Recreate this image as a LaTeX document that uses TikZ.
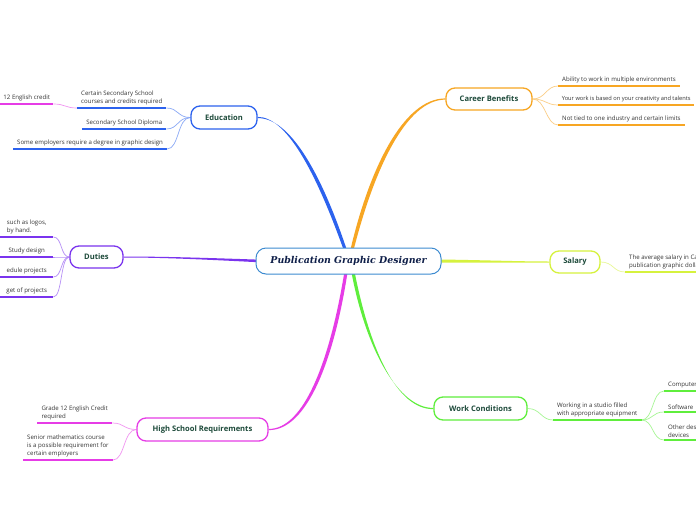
\documentclass[tikz,border=0pt]{standalone}
\usepackage{fontspec}
\setmainfont{Open Sans}
\newfontfamily\titlefont{DejaVu Serif}
\usetikzlibrary{calc,backgrounds}
\definecolor{cenc}{HTML}{3D8BD0}
\definecolor{navy}{HTML}{0E1E48}
\definecolor{labg}{HTML}{1D4A3A}
\definecolor{leaft}{HTML}{333333}
\definecolor{edc}{HTML}{2C62EE}
\definecolor{duc}{HTML}{7A34EE}
\definecolor{cbc}{HTML}{F7A623}
\definecolor{sac}{HTML}{D6F23E}
\definecolor{wcc}{HTML}{5FEE3C}
\definecolor{hsc}{HTML}{E63CE6}
\tikzset{
  central/.style={draw=cenc, line width=1pt, fill=white, rounded corners=10pt,
    minimum width=185pt, minimum height=26pt, inner sep=0pt, text=navy,
    font=\titlefont\bfseries\itshape\fontsize{9.4}{10}\selectfont},
  topic/.style={draw=#1, line width=1.3pt, fill=white, rounded corners=9pt,
    inner sep=0pt, text=labg, font=\bfseries\fontsize{7.6}{9}\selectfont},
  leaf/.style={anchor=south west, align=left, inner xsep=4pt, inner ysep=2.6pt,
    text=leaft, font=\fontsize{6.1}{8}\selectfont},
  uline/.style={draw=#1, line width=1.7pt},
  twig/.style={draw=#1!55, line width=0.7pt},
}
\begin{document}
\begin{tikzpicture}[x=1pt,y=-1pt]
\useasboundingbox (0,0) rectangle (696,520);

% central and main topics
\node[central] (c) at (348.5,261) {Publication Graphic Designer};
\node[topic=edc, minimum width=66pt, minimum height=23pt] (ed) at (224,117.5) {Education};
\node[topic=duc, minimum width=53pt, minimum height=22pt] (du) at (96.5,257) {Duties};
\node[topic=cbc, minimum width=86pt, minimum height=22pt] (cb) at (489,99) {Career Benefits};
\node[topic=sac, minimum width=50pt, minimum height=22pt] (sa) at (575,262) {Salary};
\node[topic=wcc, minimum width=93pt, minimum height=23pt] (wc) at (480.5,408.5) {Work Conditions};
\node[topic=hsc, minimum width=131pt, minimum height=23pt] (hs) at (202.5,429.5) {High School Requirements};

% leaves: Education
\node[leaf, minimum width=89pt] (ed1) at (77,108) {Certain Secondary School\\courses and credits required};
\node[leaf, minimum width=84pt] (ed2) at (82,129) {Secondary School Diploma};
\node[leaf, minimum width=153pt] (ed3) at (13,149) {Some employers require a degree in graphic design};
\node[leaf, minimum width=53pt, inner xsep=2pt] (ed1a) at (0,104) {12 English credit};
% leaves: Duties
\node[leaf, minimum width=53pt, inner xsep=1pt] (du1) at (0,237) {such as logos,\\by hand.};
\node[leaf, minimum width=53pt, inner xsep=5pt] (du2) at (0,257) {Study design};
\node[leaf, minimum width=53pt, inner xsep=0pt] (du3) at (0,277) {edule projects};
\node[leaf, minimum width=53pt, inner xsep=0pt] (du4) at (0,297) {get of projects};
% leaves: Career Benefits
\node[leaf, minimum width=119pt] (cb1) at (558,86) {Ability to work in multiple environments};
\node[leaf, minimum width=136pt, inner xsep=3.5pt, font=\fontsize{5.7}{8}\selectfont] (cb2) at (558,105) {Your work is based on your creativity and talents};
\node[leaf, minimum width=123pt] (cb3) at (558,125) {Not tied to one industry and certain limits};
% leaves: Salary
\node[leaf, minimum width=71pt] (sa1) at (625,272) {The average salary in Ca\\publication graphic dolla};
% leaves: Work Conditions
\node[leaf, minimum width=87pt] (wc1) at (553,420) {Working in a studio filled\\with appropriate equipment};
\node[leaf, minimum width=32pt] (wc2) at (664,391) {Computer};
\node[leaf, minimum width=32pt] (wc3) at (664,412) {Software};
\node[leaf, minimum width=32pt] (wc4) at (664,440) {Other desi\\devices};
% leaves: High School Requirements
\node[leaf, minimum width=75pt] (hs1) at (37,423) {Grade 12 English Credit\\required};
\node[leaf, minimum width=89pt] (hs2) at (23,460) {Senior mathematics course\\is a possible requirement for\\certain employers};

\begin{scope}[on background layer]
\fill[white] (0,0) rectangle (696,520);
% tapered main branches
\fill[edc] ($(c.north)+(-5,2)$) .. controls (315,170) and (286,116.7) .. ($(ed.east)+(0,-0.6)$)
  -- ($(ed.east)+(0,0.6)$) .. controls (289,117.7) and (320,170) .. ($(c.north)+(-1.8,2)$) -- cycle;
\fill[cbc] ($(c.north)+(2,2)$) .. controls (369,170) and (403,98.4) .. ($(cb.west)+(0,-0.6)$)
  -- ($(cb.west)+(0,0.6)$) .. controls (406,99.6) and (374,170) .. ($(c.north)+(5.2,2)$) -- cycle;
\fill[hsc] ($(c.south)+(-4.2,-2)$) .. controls (330,360) and (304,429.4) .. ($(hs.east)+(0,-0.6)$)
  -- ($(hs.east)+(0,0.6)$) .. controls (307,430.6) and (334,360) .. ($(c.south)+(-1,-2)$) -- cycle;
\fill[wcc] ($(c.south)+(3,-2)$) .. controls (366,350) and (399,408.4) .. ($(wc.west)+(0,-0.6)$)
  -- ($(wc.west)+(0,0.6)$) .. controls (397,409.6) and (370,350) .. ($(c.south)+(6.2,-2)$) -- cycle;
\fill[duc] ($(c.west)+(2,-1.4)$) .. controls (200,257.6) and (160,256.5) .. ($(du.east)+(0,-0.5)$)
  -- ($(du.east)+(0,0.5)$) .. controls (160,257.5) and (200,259.2) .. ($(c.west)+(2,1.2)$) -- cycle;
\fill[sac] ($(c.east)+(-2,-1.5)$) .. controls (480,260) and (520,261.5) .. ($(sa.west)+(0,-0.5)$)
  -- ($(sa.west)+(0,0.5)$) .. controls (520,262.5) and (480,262.6) .. ($(c.east)+(-2,1.5)$) -- cycle;

% twigs
\foreach \n in {ed1,ed2,ed3}{\draw[twig=edc] (ed.west) .. controls +(-13,0) and +(12,0) .. (\n.south east);}
\draw[twig=hsc] (ed1.south west) .. controls +(-12,0) and +(12,0) .. (ed1a.south east);
\foreach \n in {du1,du2,du3,du4}{\draw[twig=duc] (du.west) .. controls +(-9,0) and +(9,0) .. (\n.south east);}
\foreach \n in {cb1,cb2,cb3}{\draw[twig=cbc] (cb.east) .. controls +(13,0) and +(-12,0) .. (\n.south west);}
\draw[twig=sac] (sa.east) .. controls +(13,0) and +(-12,0) .. (sa1.south west);
\draw[twig=wcc] (wc.east) .. controls +(13,0) and +(-12,0) .. (wc1.south west);
\foreach \n in {wc2,wc3,wc4}{\draw[twig=wcc] (wc1.south east) .. controls +(12,0) and +(-12,0) .. (\n.south west);}
\foreach \n in {hs1,hs2}{\draw[twig=hsc] (hs.west) .. controls +(-13,0) and +(12,0) .. (\n.south east);}
\end{scope}

% underlines
\foreach \n in {ed1,ed2,ed3}{\draw[uline=edc] (\n.south west) -- (\n.south east);}
\draw[uline=hsc] (ed1a.south west) -- (ed1a.south east);
\foreach \n in {du1,du2,du3,du4}{\draw[uline=duc] (\n.south west) -- (\n.south east);}
\foreach \n in {cb1,cb2,cb3}{\draw[uline=cbc] (\n.south west) -- (\n.south east);}
\draw[uline=sac] (sa1.south west) -- (sa1.south east);
\foreach \n in {wc1,wc2,wc3,wc4}{\draw[uline=wcc] (\n.south west) -- (\n.south east);}
\foreach \n in {hs1,hs2}{\draw[uline=hsc] (\n.south west) -- (\n.south east);}
\end{tikzpicture}
\end{document}
